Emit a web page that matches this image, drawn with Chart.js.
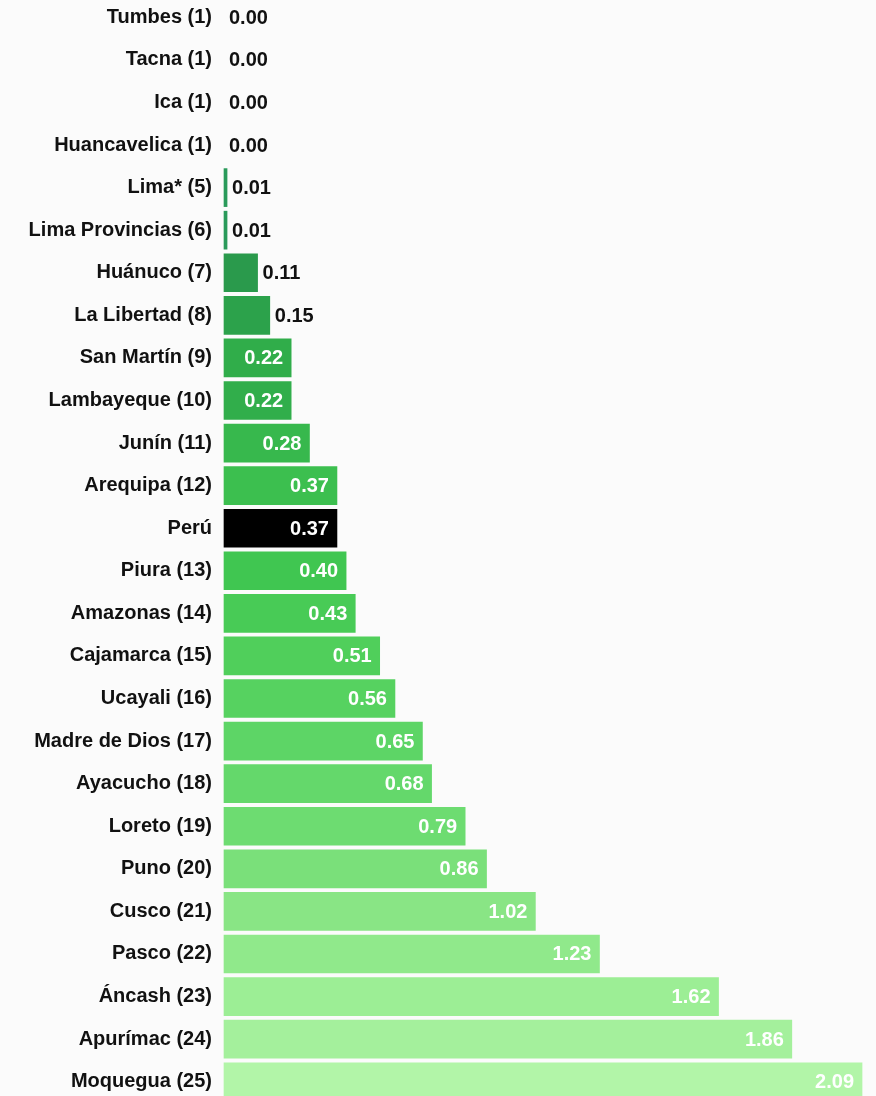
<!DOCTYPE html>
<html>
<head>
<meta charset="utf-8">
<script src="https://cdn.jsdelivr.net/npm/chart.js@4"></script>
<style>
  html, body { margin:0; padding:0; background:#fbfbfb; overflow:hidden; }
  #wrap { width:876px; height:1096px; position:relative; overflow:hidden; }
  #c { position:absolute; left:0; top:-4px; }
</style>
</head>
<body>
<div id="wrap"><canvas id="c" width="876" height="1107"></canvas></div>
<script>
const regions = ["Tumbes (1)","Tacna (1)","Ica (1)","Huancavelica (1)","Lima* (5)","Lima Provincias (6)","Huánuco (7)","La Libertad (8)","San Martín (9)","Lambayeque (10)","Junín (11)","Arequipa (12)","Perú","Piura (13)","Amazonas (14)","Cajamarca (15)","Ucayali (16)","Madre de Dios (17)","Ayacucho (18)","Loreto (19)","Puno (20)","Cusco (21)","Pasco (22)","Áncash (23)","Apurímac (24)","Moquegua (25)"];
const values = [0.00,0.00,0.00,0.00,0.01,0.01,0.11,0.15,0.22,0.22,0.28,0.37,0.37,0.40,0.43,0.51,0.56,0.65,0.68,0.79,0.86,1.02,1.23,1.62,1.86,2.09];
const barColors = ["#2a9a5a","#2a9a5a","#2a9a5a","#2a9a5a","#2a9a5a","#2a9a5a","#2a9a4c","#2ca24b","#30ad4a","#31ae4b","#37b84d","#3cbf4f","#000000","#40c651","#48cb56","#50cf5b","#56d260","#5dd566","#64d86b","#6ddc71","#7ae07a","#89e585","#90e98b","#9cee95","#a4f09c","#b2f5a8"];

const FONT = "'Liberation Sans', Arial, Helvetica, sans-serif";

const valueLabels = {
  id: 'valueLabels',
  afterDatasetsDraw(chart) {
    const ctx = chart.ctx;
    const meta = chart.getDatasetMeta(0);
    ctx.save();
    ctx.font = "bold 20px " + FONT;
    ctx.textBaseline = 'middle';
    meta.data.forEach((bar, i) => {
      const v = values[i];
      const txt = v.toFixed(2);
      if (v < 0.2) {
        ctx.fillStyle = '#111111';
        ctx.textAlign = 'left';
        ctx.fillText(txt, bar.x + 5, bar.y + 1);
      } else {
        ctx.fillStyle = '#ffffff';
        ctx.textAlign = 'right';
        ctx.fillText(txt, bar.x - 8, bar.y + 1);
      }
    });
    ctx.restore();
  }
};

new Chart(document.getElementById('c'), {
  type: 'bar',
  data: {
    labels: regions,
    datasets: [{
      data: values,
      backgroundColor: values.map((v, i) => v === 0 ? 'rgba(0,0,0,0)' : barColors[i]),
      borderWidth: 0,
      barThickness: 38,
      clip: false
    }]
  },
  options: {
    indexAxis: 'y',
    responsive: false,
    animation: false,
    devicePixelRatio: 1,
    layout: { padding: { top: 0, bottom: 0, left: 0, right: 10 } },
    plugins: { legend: { display: false }, tooltip: { enabled: false } },
    scales: {
      x: { display: false, min: 0, max: 2.103 },
      y: {
        offset: true,
        grid: { display: false, drawTicks: false },
        border: { display: false },
        ticks: {
          padding: 12,
          color: '#111111',
          font: { family: FONT, size: 20, weight: 'bold' },
          autoSkip: false
        },
        afterFit(scale) { scale.width = 224; scale.paddingTop = 0; scale.paddingBottom = 0; }
      }
    }
  },
  plugins: [valueLabels]
});
</script>
</body>
</html>
